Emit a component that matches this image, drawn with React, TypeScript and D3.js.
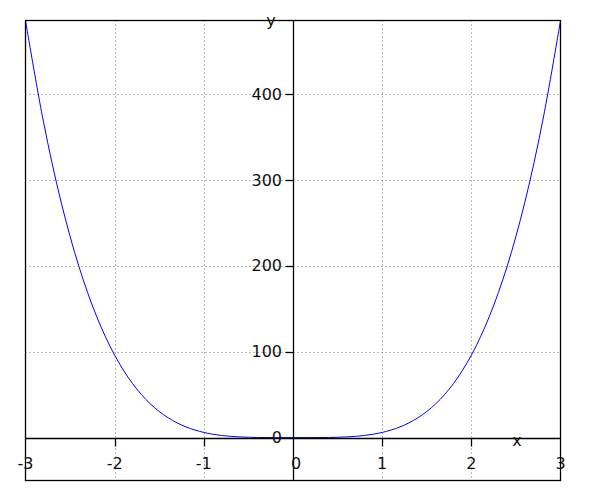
import React from "react";
import * as d3 from "d3";

const xs = [-3, -2.8, -2.6, -2.4, -2.2, -2, -1.8, -1.6, -1.4, -1.2, -1, -0.8, -0.6, -0.4, -0.2, 0,
  0.2, 0.4, 0.6, 0.8, 1, 1.2, 1.4, 1.6, 1.8, 2, 2.2, 2.4, 2.6, 2.8, 3];
const ys = [486, 368.8, 274.2, 199.1, 140.6, 96, 63, 39.3, 23.05, 12.44, 6, 2.46, 0.78, 0.15, 0.01, 0,
  0.01, 0.15, 0.78, 2.46, 6, 12.44, 23.05, 39.3, 63, 96, 140.6, 199.1, 274.2, 368.8, 486];
const xTicks = [-3, -2, -1, 0, 1, 2, 3];
const xGrid = [-2, -1, 1, 2];
const yTicks = [0, 100, 200, 300, 400];
const yGrid = [100, 200, 300, 400];

export default function App() {
  const W = 600, H = 500;
  const left = 25.5, right = 560.5, top = 20.5, bottom = 480.5;
  const x = d3.scaleLinear().domain([-3, 3]).range([left, right]);
  const y = d3.scaleLinear().domain([-50, 486]).range([bottom, top]);
  const pts = xs.map((v, i) => [v, ys[i]] as [number, number]);
  const line = d3.line<[number, number]>().x(d => x(d[0])).y(d => y(d[1])).curve(d3.curveCatmullRom);
  const x0 = Math.round(x(0)) + 0.5;
  const y0 = Math.round(y(0)) + 0.5;
  const font = "DejaVu Sans";
  const fs = 16;
  const tc = "#111";
  return (
    <svg width={W} height={H} style={{ position: "absolute", left: 0, top: 0 }} fontFamily={font}>
      <rect x={0} y={0} width={W} height={H} fill="white" />
      {xGrid.map(v => (
        <line key={"gx" + v} x1={Math.round(x(v)) + 0.5} x2={Math.round(x(v)) + 0.5} y1={top} y2={bottom}
          stroke="#777" strokeDasharray="1,3" />
      ))}
      {yGrid.map(v => (
        <line key={"gy" + v} x1={left} x2={right} y1={Math.round(y(v)) + 0.5} y2={Math.round(y(v)) + 0.5}
          stroke="#777" strokeDasharray="1,3" />
      ))}
      <defs>
        <clipPath id="clip"><rect x={left} y={top - 1} width={right - left} height={bottom - top + 1} /></clipPath>
      </defs>
      <path d={line(pts) || ""} fill="none" stroke="blue" strokeWidth={1} clipPath="url(#clip)" />
      <rect x={left} y={top} width={right - left} height={bottom - top} fill="none" stroke="black" strokeWidth={1.3} />
      <line x1={left} x2={right} y1={y0} y2={y0} stroke="black" strokeWidth={1.3} />
      <line x1={x0} x2={x0} y1={top} y2={bottom} stroke="black" strokeWidth={1.3} />
      {xGrid.map(v => (
        <line key={"tx" + v} x1={Math.round(x(v)) + 0.5} x2={Math.round(x(v)) + 0.5} y1={y0} y2={y0 + 8}
          stroke="black" strokeWidth={1.3} />
      ))}
      {yGrid.map(v => (
        <line key={"ty" + v} x1={x0 - 8} x2={x0} y1={Math.round(y(v)) + 0.5} y2={Math.round(y(v)) + 0.5}
          stroke="black" strokeWidth={1.3} />
      ))}
      {xTicks.map(v => (
        <text key={"lx" + v} x={x(v) + (v === 0 ? 3 : 0)} y={469} textAnchor="middle" fontSize={fs} fill={tc}>
          {String(v)}
        </text>
      ))}
      {yTicks.map(v => (
        <text key={"ly" + v} x={282} y={y(v)} textAnchor="end" dominantBaseline="central" fontSize={fs} fill={tc}>
          {String(v)}
        </text>
      ))}
      <text x={517} y={440} textAnchor="middle" dominantBaseline="central" fontSize={fs} fill={tc}>x</text>
      <text x={271} y={20} textAnchor="middle" dominantBaseline="central" fontSize={fs} fill={tc}>y</text>
    </svg>
  );
}
